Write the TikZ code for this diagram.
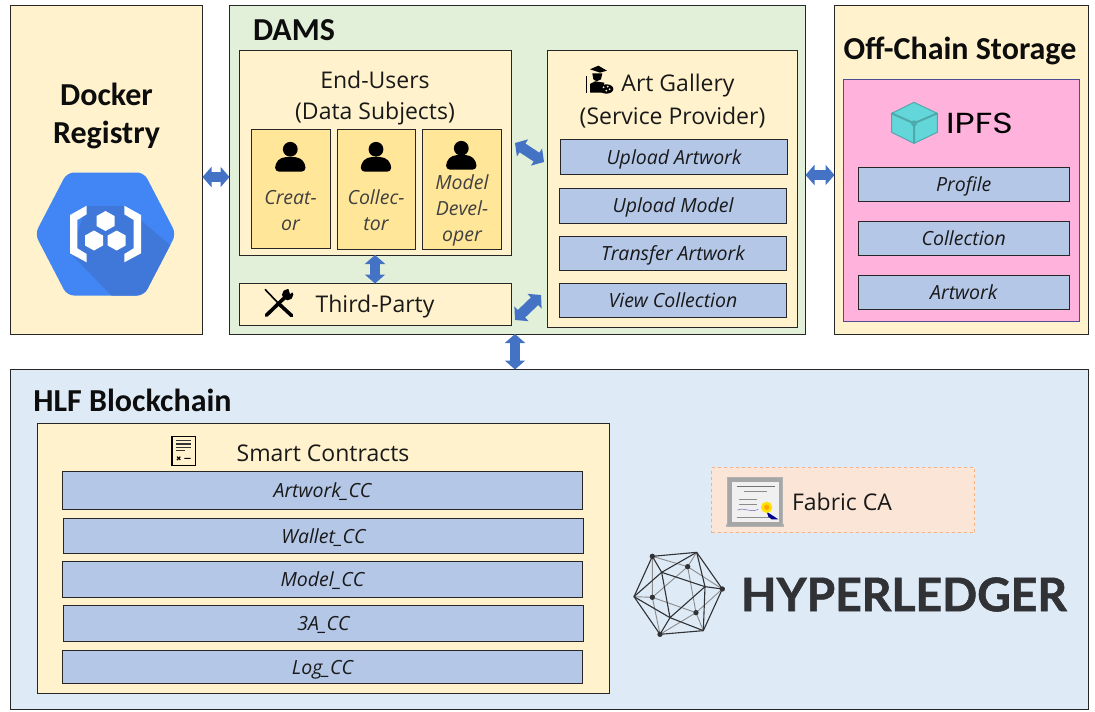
\documentclass[tikz,border=0pt]{standalone}
\usepackage{graphicx}
\usepackage{fontspec}
\setmainfont{Open Sans}
\newfontfamily\titlefont{Carlito}
\newfontfamily\logofont[BoldFeatures={FakeBold=1.2}]{Lato}
\newfontfamily\ipfsfont{Poppins}
\usetikzlibrary{arrows.meta}
\definecolor{cream}{HTML}{FFF2CC}
\definecolor{dgreen}{HTML}{E2F0D9}
\definecolor{bluebox}{HTML}{B4C7E7}
\definecolor{gold}{HTML}{FFE699}
\definecolor{pinkbox}{HTML}{FFB3DC}
\definecolor{hlfblue}{HTML}{DEEAF6}
\definecolor{peach}{HTML}{FBE5D6}
\definecolor{peachline}{HTML}{F4B183}
\definecolor{arrowblue}{HTML}{4472C4}
\definecolor{ink}{HTML}{262626}
\definecolor{gblue}{HTML}{4285F4}
\definecolor{gshade}{HTML}{3F78D8}
\definecolor{logodark}{HTML}{303236}
\definecolor{cube}{HTML}{62D6D8}
\definecolor{cubedark}{HTML}{4FA9AC}
\tikzset{
  panel/.style={draw=ink,line width=1pt,inner sep=0pt,outer sep=0pt},
  creambox/.style={panel,fill=cream},
  greenbox/.style={panel,fill=dgreen},
  hlfbox/.style={panel,fill=hlfblue},
  pinkpanel/.style={panel,fill=pinkbox,draw=black!60!blue!70!white},
  rolebox/.style={panel,fill=gold},
  itembox/.style={panel,fill=bluebox,font=\fontsize{19.5}{22}\selectfont\itshape,text=black!90,text height=18.5pt,text depth=4pt},
  cabox/.style={panel,fill=peach,draw=peachline,dashed},
  heading/.style={inner sep=0pt,outer sep=0pt,font=\titlefont\bfseries\fontsize{32}{38}\selectfont,align=center,text=black!95},
  label/.style={inner sep=0pt,outer sep=0pt,font=\fontsize{23}{31.5}\selectfont,align=center,text=black!90},
  rolelabel/.style={inner sep=0pt,outer sep=0pt,font=\fontsize{19.5}{26}\selectfont\itshape,align=center,text=black!75},
  blockarrow/.style={draw=arrowblue,line width=10.5pt,{Triangle[length=9pt,width=20pt]}-{Triangle[length=9pt,width=20pt]}},
}
\newcommand{\bx}[7]{%
  \pgfmathsetmacro{\bxw}{#4-#2}\pgfmathsetmacro{\bxh}{#5-#3}%
  \node[#6,anchor=north west,minimum width=\bxw pt,minimum height=\bxh pt] (#1) at (#2,#3) {#7};}
\newcommand{\personicon}[3]{%
  \fill[black] (#1,#2) circle (7.4);
  \fill[black,rounded corners=4pt] (#1-15.2,#3) -- (#1-15.2,#3-8) -- (#1-9,#3-14.5) -- (#1+9,#3-14.5) -- (#1+15.2,#3-8) -- (#1+15.2,#3) -- cycle;}
\begin{document}
\begin{tikzpicture}[x=1pt,y=-1pt]
\useasboundingbox (0,0) rectangle (1095,712);
% panels
\bx{docker}{10.5}{5.5}{202.5}{334}{creambox}{}
\bx{dams}{229.5}{5.5}{805.5}{334}{greenbox}{}
\bx{off}{834.5}{5.5}{1088.5}{334}{creambox}{}
\bx{hlf}{10.5}{369.5}{1088.5}{709.5}{hlfbox}{}
\bx{users}{239.5}{50.5}{511.5}{255}{creambox}{}
\bx{creator}{251.5}{129}{330.5}{248.5}{rolebox}{}
\bx{collector}{337}{129}{415.5}{249.5}{rolebox}{}
\bx{modeldev}{422.5}{129}{501.5}{249.5}{rolebox}{}
\bx{third}{239.5}{283.5}{511.5}{325.5}{creambox}{}
\bx{gallery}{547.5}{50.5}{797.5}{327}{creambox}{}
\bx{upart}{560.5}{139}{787.5}{174.5}{itembox}{Upload Artwork}
\bx{upmodel}{559.5}{188}{786.5}{223}{itembox}{Upload Model}
\bx{transfer}{559.5}{236}{786.5}{270.5}{itembox}{Transfer Artwork}
\bx{viewcol}{559.5}{283}{786.5}{317.5}{itembox}{View Collection}
\bx{ipfs}{843.5}{79.5}{1079.5}{321}{pinkpanel}{}
\bx{profile}{858}{167.5}{1069.5}{201.5}{itembox}{Profile}
\bx{collection}{858}{221}{1069.5}{255.5}{itembox}{Collection}
\bx{artwork}{858}{275.5}{1069.5}{309.5}{itembox}{Artwork}
\bx{smart}{37.5}{423.5}{609.5}{693.5}{creambox}{}
\bx{artcc}{62.5}{471.5}{582.5}{509.5}{itembox}{Artwork\_CC}
\bx{walletcc}{63.5}{518}{583.5}{553.5}{itembox}{Wallet\_CC}
\bx{modelcc}{62.5}{561}{582.5}{597.5}{itembox}{Model\_CC}
\bx{aaacc}{63.5}{605}{583.5}{641}{itembox}{3A\_CC}
\bx{logcc}{62.5}{650}{582.5}{683.5}{itembox}{Log\_CC}
\bx{fabric}{711.5}{467.5}{974.5}{532.5}{cabox}{}
% headings and labels
\node[heading] (tdocker) at (106.5,115.5) {Docker\\Registry};
\node[heading] (tdams) at (294,30) {DAMS};
\node[heading] (toff) at (960,51) {Off-Chain Storage};
\node[heading] (thlf) at (132.5,400) {HLF Blockchain};
\node[label] (tusers) at (375,98) {End-Users\\(Data Subjects)};
\node[label] (tthird) at (375,306.5) {Third-Party};
\node[label] (tart) at (678,86) {Art Gallery};
\node[label] (tsp) at (672.5,117.5) {(Service Provider)};
\node[label] (tsc) at (323,453.5) {Smart Contracts};
\node[label] (tca) at (842,502) {Fabric CA};
\node[rolelabel] (lcreator) at (290.5,210.5) {Creat-\\or};
\node[rolelabel] (lcollector) at (376,210.5) {Collec-\\tor};
\node[rolelabel] (lmodel) at (462,210.5) {Model\\Devel-\\oper};
\node[inner sep=0pt,font=\ipfsfont\fontsize{29}{29}\selectfont] (tipfs) at (979.5,123) {\scalebox{1.2}[1]{IPFS}};
\node[inner sep=0pt,font=\logofont\bfseries\fontsize{46.2}{46}\selectfont,text=logodark] (thyper) at (904,594.5) {HYPERLEDGER};
% person icons
\personicon{290.3}{149.3}{171.7}
\personicon{376}{149.3}{171.7}
\personicon{461.3}{148.3}{169.7}
% docker registry hexagon
\begin{scope}
  \clip[rounded corners=7pt] (35,234) -- (67,172.5) -- (144,172.5) -- (176,234) -- (144,295.5) -- (67,295.5) -- cycle;
  \fill[gblue] (30,165) rectangle (180,300);
  \fill[gshade] (87,206) -- (124,206) -- (176,250) -- (176,296) -- (112,296) -- (70,253) -- cycle;
\end{scope}
\fill[white] (86.7,205.7) -- (70,215) -- (70,253.3) -- (86.7,262.3) -- (86.7,254) -- (77.3,248.3) -- (77.3,220) -- (86.7,214.3) -- cycle;
\fill[white] (124.3,205.7) -- (141,215) -- (141,253.3) -- (124.3,262.3) -- (124.3,254) -- (133.7,248.3) -- (133.7,220) -- (124.3,214.3) -- cycle;
\foreach \hx/\hy in {105.5/221,94/240.5,116.7/240.5}{
  \fill[white] (\hx,\hy-10) -- (\hx+9,\hy-5) -- (\hx+9,\hy+5) -- (\hx,\hy+10) -- (\hx-9,\hy+5) -- (\hx-9,\hy-5) -- cycle;}
% tools icon
\begin{scope}[shift={(235,40)},x=0.3333pt,y=-0.3333pt]
  \draw[black,line width=1.6pt] (90,748) -- (132,792);
  \draw[black,line width=3.6pt,line cap=round] (130,790) -- (170,827);
  \draw[black,line width=3.6pt,line cap=round] (94,826) -- (150,772);
  \fill[black] (158,764) circle (17);
  \fill[cream] (160,744) -- (180,738) -- (182,750) -- (165,762) -- cycle;
\end{scope}
% painter icon
\begin{scope}[shift={(545,40)},x=0.3333pt,y=-0.3333pt]
  \fill[black] (135,88) -- (160,77) -- (186,92) -- (165,98) -- cycle;
  \fill[black] (142,100) -- (172,100) -- (168,118) -- (155,124) -- (145,118) -- cycle;
  \fill[black] (135,158) -- (135,132) -- (150,124) -- (178,128) -- (172,158) -- cycle;
  \draw[black,line width=1.6pt] (125,108) -- (125,158);
  \fill[black] (184,147) ellipse (21 and 14);
  \fill[cream] (176,142) circle (3) (188,140) circle (3) (194,148) circle (3) (184,152) circle (3);
\end{scope}
% ipfs cube
\begin{scope}[shift={(840,70)},x=0.3333pt,y=-0.3333pt]
  \fill[cube,draw=cubedark,line width=1pt] (222,97) -- (292,130) -- (292,187) -- (222,220) -- (155,187) -- (155,130) -- cycle;
  \draw[cubedark,line width=2pt] (155,130) -- (222,160) -- (292,130) (222,160) -- (222,220);
  \fill[cubedark] (222,160) circle (9);
\end{scope}
% contract icon
\begin{scope}[shift={(150,425)},x=0.3333pt,y=-0.3333pt]
  \draw[black,line width=1.6pt,fill=cream] (66,35) rectangle (136,121);
  \draw[black!80,line width=1.2pt] (78,47) -- (124,47) (78,57) -- (124,57) (78,67) -- (124,67) (78,77) -- (105,77);
  \draw[black,line width=1.1pt] (81,95) -- (91,105) (91,95) -- (81,105) (103,100) -- (122,100);
\end{scope}
% certificate icon
\begin{scope}[shift={(620,460)},x=0.3333pt,y=-0.3333pt]
  \fill[black!30] (318,192) rectangle (492,202);
  \fill[black!35!white,draw=black!30] (322,52) rectangle (488,198);
  \fill[white!94!black] (335,66) rectangle (476,185);
  \draw[black!55,line width=1.4pt] (350,80) -- (464,80);
  \draw[black!45,line width=0.9pt] (372,95) -- (442,95) (358,118) -- (410,118) (358,132) -- (410,132) (350,172) -- (464,172);
  \draw[blue!50!black!60,line width=0.5pt] (352,150) .. controls (370,140) and (390,160) .. (415,148);
  \fill[blue!55!black] (440,155) -- (475,178) -- (455,178) -- (445,170) -- cycle;
  \fill[yellow!85!orange] (440,142) circle (17);
  \fill[orange!70!yellow] (440,142) circle (8);
\end{scope}
% hyperledger logo
\begin{scope}[shift={(620,460)},x=0.3333pt,y=-0.3333pt]
  \coordinate (p1) at (97,289); \coordinate (p2) at (230,277); \coordinate (p3) at (307,387);
  \coordinate (p4) at (250,512); \coordinate (p5) at (120,523); \coordinate (p6) at (42,410);
  \coordinate (f1) at (125,337); \coordinate (f2) at (255,380); \coordinate (f3) at (150,473);
  \coordinate (b1) at (203,320); \coordinate (b2) at (97,412); \coordinate (b3) at (228,458);
  \draw[black!45,line width=0.9pt] (b1) -- (b2) -- (b3) -- cycle;
  \draw[black!45,line width=0.9pt] (b1) -- (p1) (b1) -- (p2) (b1) -- (p3) (b2) -- (p1) (b2) -- (p6) (b2) -- (p5) (b3) -- (p3) (b3) -- (p4) (b3) -- (p5);
  \draw[logodark,line width=1.1pt] (p1) -- (p2) -- (p3) -- (p4) -- (p5) -- (p6) -- cycle;
  \draw[logodark,line width=1.1pt] (f1) -- (f2) -- (f3) -- cycle;
  \draw[logodark,line width=1.1pt] (f1) -- (p1) (f1) -- (p2) (f1) -- (p6) (f2) -- (p2) (f2) -- (p3) (f2) -- (p4) (f3) -- (p4) (f3) -- (p5) (f3) -- (p6);
  \foreach \pt in {p1,p3,p5,b1,b2,b3} \fill[logodark] (\pt) circle (8);
\end{scope}
% connectors
\coordinate (ya) at (0,177);
\coordinate (yb) at (0,175);
\coordinate (xa) at (375,0);
\coordinate (xb) at (515,0);
\coordinate (ua) at (515,143);
\coordinate (ub) at (544,162);
\coordinate (ta) at (515,320);
\coordinate (tb) at (541,295);
\draw[blockarrow] (docker.east |- ya) -- (dams.west |- ya);
\draw[blockarrow] (dams.east |- yb) -- (off.west |- yb);
\draw[blockarrow] (users.south -| xa) -- (third.north -| xa);
\draw[blockarrow] (dams.south -| xb) -- (hlf.north -| xb);
\draw[blockarrow] (ua) -- (ub);
\draw[blockarrow] (ta) -- (tb);
\end{tikzpicture}
\end{document}
